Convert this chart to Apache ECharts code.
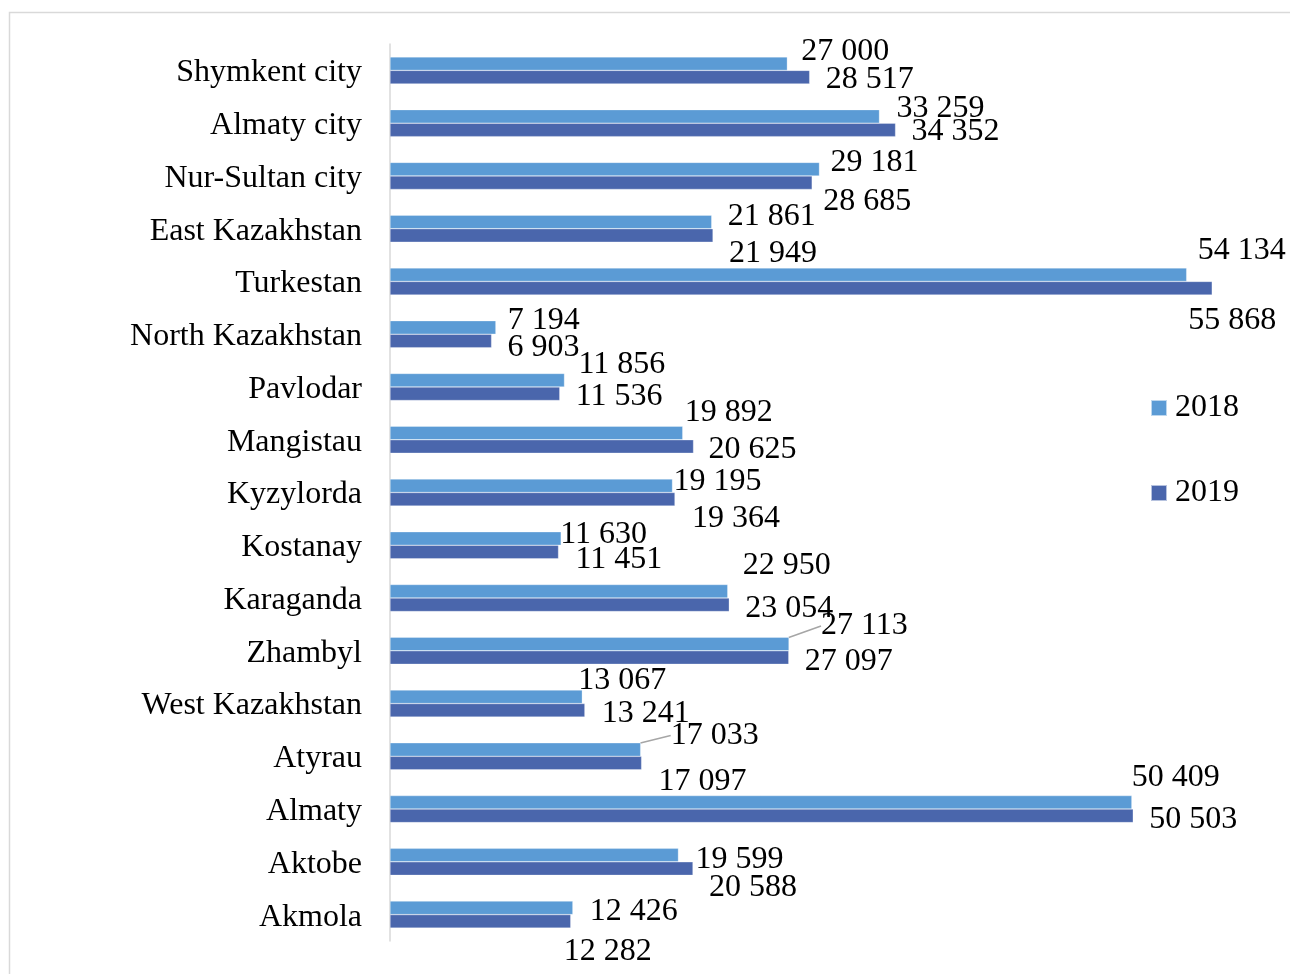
<!DOCTYPE html>
<html>
<head>
<meta charset="utf-8">
<script src="https://cdn.jsdelivr.net/npm/echarts@6/dist/echarts.min.js"></script>
<style>
  html, body { margin: 0; padding: 0; background: #fff; }
  #chart { width: 1290px; height: 974px; }
</style>
</head>
<body>
<div id="chart"></div>
<script>
// regions, top to bottom as in the picture
var regions = ['Shymkent city', 'Almaty city', 'Nur-Sultan city', 'East Kazakhstan', 'Turkestan',
	'North Kazakhstan', 'Pavlodar', 'Mangistau', 'Kyzylorda', 'Kostanay', 'Karaganda', 'Zhambyl',
	'West Kazakhstan', 'Atyrau', 'Almaty', 'Aktobe', 'Akmola'];
var values2018 = [27000, 33259, 29181, 21861, 54134, 7194, 11856, 19892, 19195, 11630, 22950, 27113,
	13067, 17033, 50409, 19599, 12426];
var values2019 = [28517, 34352, 28685, 21949, 55868, 6903, 11536, 20625, 19364, 11451, 23054, 27097,
	13241, 17097, 50503, 20588, 12282];
var xTicks = [0, 60000];

// label nudges (px), same order as regions
var nudge2018 = [[9,-14],[12,-10],[6,-9],[11,-7],[6,-26],[7,-9],[9,-18],[-3,-22],[-4,-6],[-6,-6],
	[10,-28],[27,-20],[-9,-18],[25,-16],[-5,-27],[12,2],[12,2]];
var nudge2019 = [[11,0],[11,0],[6,17],[11,16],[-29,30],[11,5],[11,1],[10,1],[12,17],[12,6],
	[11,2],[11,2],[12,1],[12,17],[11,2],[11,17],[-12,28]];
var leader2018 = [11, 13];

var font = 'Liberation Serif';

function fmt(v) {
	return String(v).replace(/\B(?=(\d{3})+(?!\d))/g, ' ');
}

function barSeries(name, values, color, nudges, leaders) {
	return {
		name: name,
		type: 'bar',
		barWidth: 13.5,
		barGap: '0%',
		itemStyle: { color: color, borderColor: 'rgba(255,255,255,0.6)', borderWidth: 0.5 },
		data: values.map(function (v, i) {
			var d = { value: v };
			if (leaders && leaders.indexOf(i) >= 0) {
				d.labelLine = { show: true };
			}
			return d;
		}),
		label: {
			show: true,
			position: 'right',
			distance: 5,
			fontFamily: font,
			fontSize: 32,
			color: '#000',
			formatter: function (p) { return fmt(p.value); }
		},
		labelLine: {
			show: false,
			lineStyle: { color: '#A6A6A6', width: 1.5 }
		},
		labelLayout: function (p) {
			var n = nudges[p.dataIndex];
			return { dx: n[0], dy: n[1] + 2 };
		}
	};
}

var option = {
	animation: false,
	graphic: [{
		type: 'rect',
		shape: { x: 9.5, y: 12.5, width: 1400, height: 1100 },
		style: { fill: 'none', stroke: '#D9D9D9', lineWidth: 1.5 },
		silent: true
	}],
	grid: {
		left: 390,
		right: 17,
		top: 44,
		bottom: 33,
		containLabel: false
	},
	legend: {
		data: ['2018', '2019'],
		orient: 'vertical',
		left: 1150,
		top: 392,
		padding: 0,
		itemWidth: 16,
		itemHeight: 16,
		itemGap: 53,
		icon: 'rect',
		textStyle: { fontFamily: font, fontSize: 32, color: '#000', padding: [4, 0, 0, 3] }
	},
	xAxis: {
		type: 'value',
		min: xTicks[0],
		max: xTicks[1],
		show: false
	},
	yAxis: {
		type: 'category',
		inverse: true,
		data: regions,
		axisLine: { show: true, lineStyle: { color: '#D9D9D9', width: 1.5 } },
		axisTick: { show: false },
		axisLabel: {
			margin: 28,
			formatter: function (v) { return '{a|' + v + '}'; },
			rich: { a: { fontFamily: font, fontSize: 32, color: '#000', padding: [5, 0, 0, 0] } }
		}
	},
	series: [
		barSeries('2018', values2018, '#5B9BD5', nudge2018, leader2018),
		barSeries('2019', values2019, '#4A66AC', nudge2019, null)
	]
};

var chart = echarts.init(document.getElementById('chart'));
chart.setOption(option);
</script>
</body>
</html>
